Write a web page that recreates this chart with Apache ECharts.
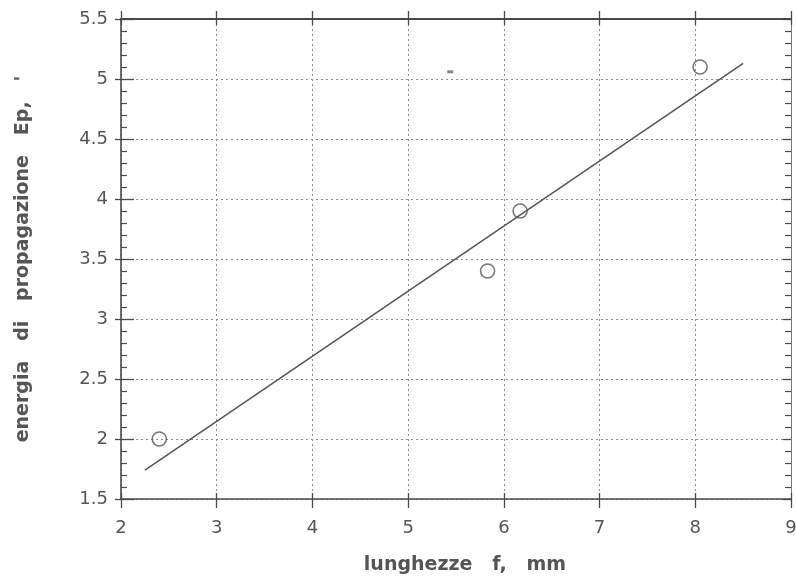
<!DOCTYPE html>
<html><head><meta charset="utf-8">
<script src="https://cdn.jsdelivr.net/npm/echarts@6/dist/echarts.min.js"></script>
<style>html,body{margin:0;padding:0;background:#fff}#c{width:796px;height:577px}</style>
</head><body><div id="c"></div>
<script>
const pointsX = [2.4, 5.83, 6.17, 8.05];
const pointsY = [2.0, 3.4, 3.9, 5.1];
const fitX = [2.25, 8.5];
const fitY = [1.74, 5.13];
const speckX = [5.44];
const speckY = [5.06];
const xName = 'lunghezze   f,   mm';
const yName = "energia   di   propagazione   Ep,   '";

const C = '#4a4a4a';
const F = 'DejaVu Sans, sans-serif';
const chart = echarts.init(document.getElementById('c'), null, {renderer:'canvas'});
const baseX = {type:'value', min:2, max:9, interval:1, gridIndex:0};
const baseY = {type:'value', min:1.5, max:5.5, interval:0.5, gridIndex:0};
const noLab = {show:false};
const noSplit = {show:false};
chart.setOption({
  backgroundColor:'#ffffff',
  animation:false,
  grid:{left:121, right:5, top:19, bottom:78, containLabel:false, outerBoundsMode:'none'},
  xAxis:[
    Object.assign({}, baseX, {position:'bottom',
      axisLine:{show:true, lineStyle:{color:C, width:1.6}},
      axisTick:{show:true, inside:false, length:9, lineStyle:{color:C, width:1.3}},
      axisLabel:{show:true, color:'#555', fontSize:18, fontFamily:F, margin:20},
      splitLine:{show:true, lineStyle:{color:'#8a8a8a', type:[2,3], width:1}},
      name:xName, nameLocation:'middle', nameGap:57,
      nameTextStyle:{color:'#555', fontSize:19, fontWeight:'bold', fontFamily:F, padding:[0,0,0,18]}
    }),
    Object.assign({}, baseX, {position:'bottom', axisLine:{show:false},
      axisTick:{show:true, inside:true, length:6, lineStyle:{color:C, width:1.3}},
      axisLabel:noLab, splitLine:noSplit}),
    Object.assign({}, baseX, {position:'top',
      axisLine:{show:true, lineStyle:{color:C, width:2}},
      axisTick:{show:true, inside:false, length:8, lineStyle:{color:C, width:1.3}},
      axisLabel:noLab, splitLine:noSplit}),
    Object.assign({}, baseX, {position:'top', axisLine:{show:false},
      axisTick:{show:true, inside:true, length:6, lineStyle:{color:C, width:1.3}},
      axisLabel:noLab, splitLine:noSplit})
  ],
  yAxis:[
    Object.assign({}, baseY, {position:'left',
      axisLine:{show:true, lineStyle:{color:C, width:1.6}},
      axisTick:{show:true, inside:false, length:6, lineStyle:{color:C, width:1.3}},
      axisLabel:{show:true, color:'#555', fontSize:18, fontFamily:F, margin:13},
      splitLine:{show:true, lineStyle:{color:'#8a8a8a', type:[2,3], width:1}},
      name:yName, nameLocation:'middle', nameGap:88, nameRotate:90,
      nameTextStyle:{color:'#555', fontSize:19, fontWeight:'bold', fontFamily:F}
    }),
    Object.assign({}, baseY, {position:'left', axisLine:{show:false},
      axisTick:{show:true, inside:true, length:13, lineStyle:{color:C, width:1.3}},
      minorTick:{show:true, splitNumber:5, length:6, lineStyle:{color:C, width:1.2}},
      axisLabel:noLab, splitLine:noSplit}),
    Object.assign({}, baseY, {position:'right',
      axisLine:{show:true, lineStyle:{color:'#777', width:1}},
      axisTick:{show:true, inside:true, length:8, lineStyle:{color:C, width:1.3}},
      minorTick:{show:true, splitNumber:5, length:6, lineStyle:{color:C, width:1.2}},
      axisLabel:noLab, splitLine:noSplit})
  ],
  series:[
    {type:'line', xAxisIndex:0, yAxisIndex:0, data:fitX.map((x,i)=>[x,fitY[i]]),
      showSymbol:false, symbol:'none', lineStyle:{color:'#555', width:1.5}, z:3},
    {type:'scatter', xAxisIndex:0, yAxisIndex:0, data:pointsX.map((x,i)=>[x,pointsY[i]]),
      symbol:'circle', symbolSize:14,
      itemStyle:{color:'rgba(255,255,255,0)', borderColor:'#555', borderWidth:1.6}, z:4},
    {type:'scatter', xAxisIndex:0, yAxisIndex:0, data:speckX.map((x,i)=>[x,speckY[i]]),
      symbol:'rect', symbolSize:[6,3], itemStyle:{color:'#666'}, z:4}
  ]
});
</script></body></html>
